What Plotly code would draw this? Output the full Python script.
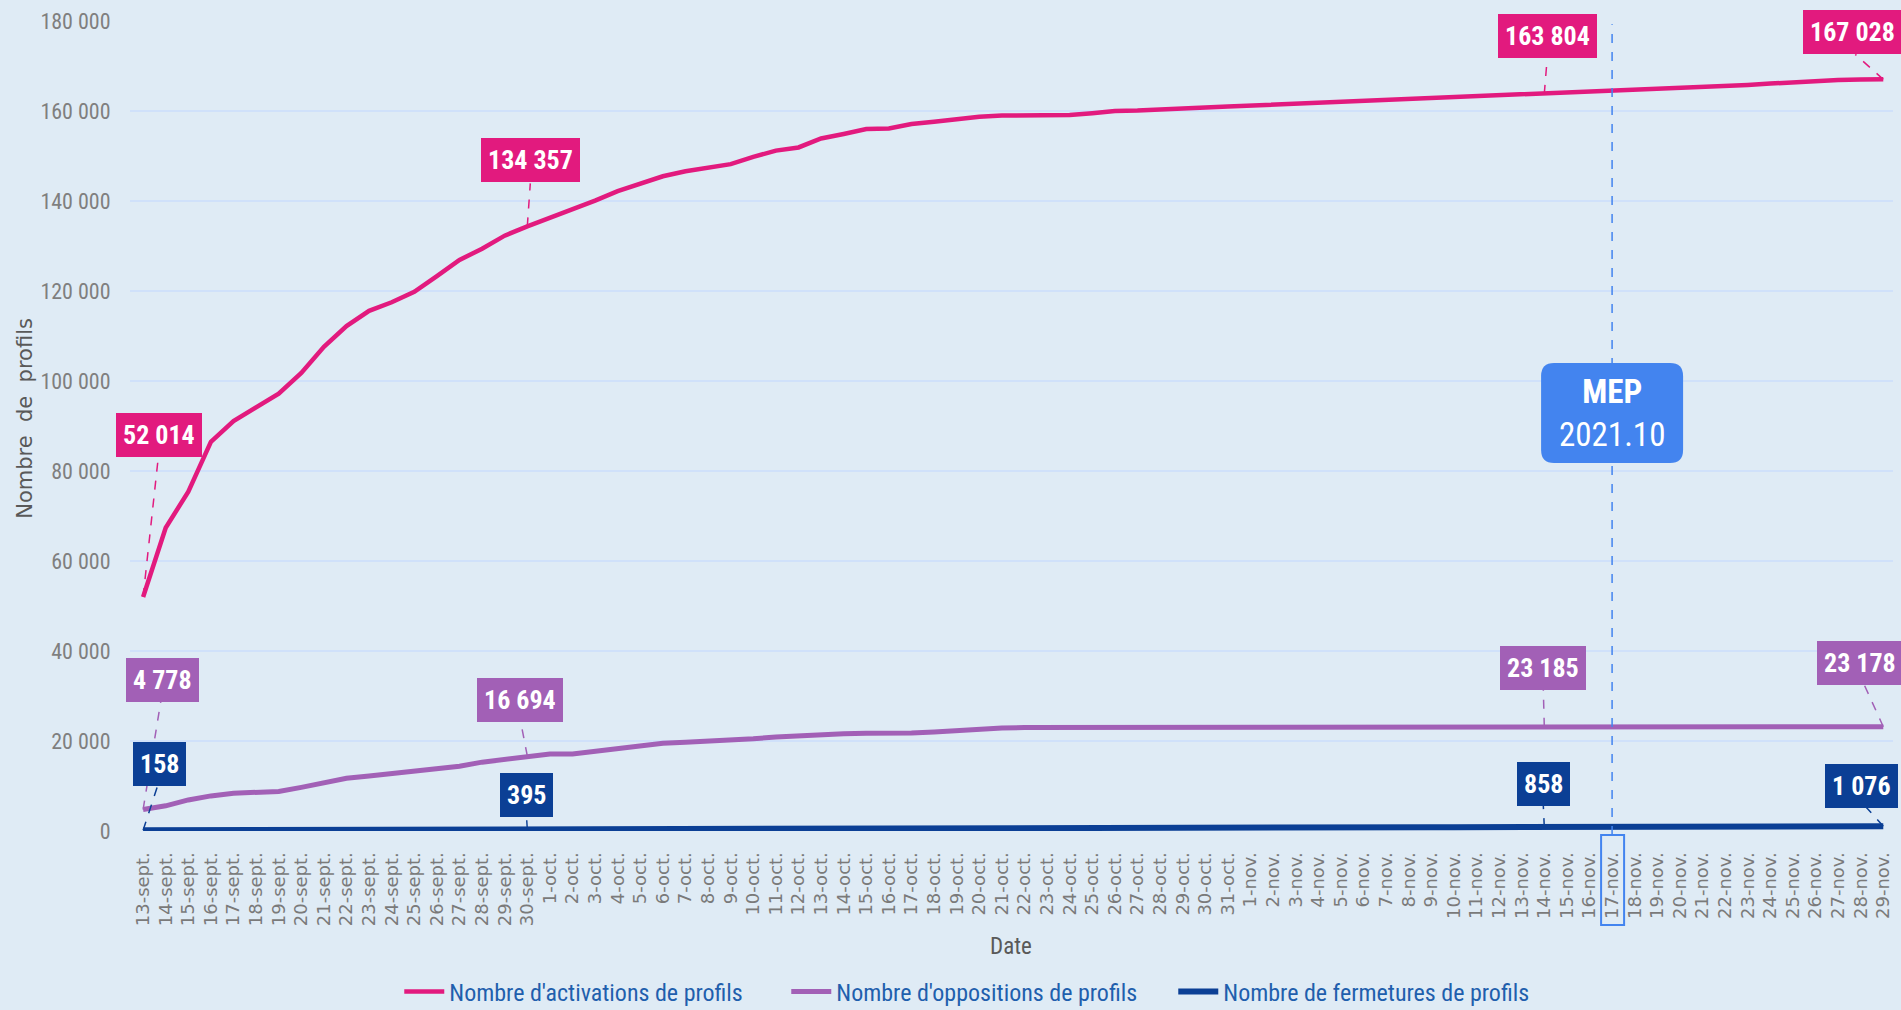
import plotly.graph_objects as go

# ---------------- data ----------------
sept_days = list(range(13, 31))
oct_days = list(range(1, 32))
nov_days = list(range(1, 30))
dates = ([f"{d}-sept." for d in sept_days] + [f"{d}-oct." for d in oct_days]
         + [f"{d}-nov." for d in nov_days])

activations = [
    52014, 67400, 75400, 86500, 91100, 94200, 97200, 101800, 107600, 112200,
    115600, 117500, 119800, 123300, 126900, 129400, 132300, 134357, 136300, 138000,
    140100, 142200, 143900, 145500, 146600, 147400, 148200, 149800, 151200, 151900,
    153900, 154900, 156000, 156100, 157100, 157600, 158200, 158700, 159000, 159100,
    159100, 159100, 159500, 160000, 160100, 160400, 160600, 160800, 161000, 161200,
    161500, 161800, 162000, 162200, 162400, 162600, 162800, 163000, 163200, 163400,
    163500, 163650, 163804, 164000, 164200, 164400, 164600, 164800, 165000, 165200,
    165500, 165800, 166100, 166400, 166700, 166900, 167000, 167028]

oppositions = [
    4778, 5600, 6900, 7800, 8400, 8600, 8800, 9700, 10600, 11700,
    12200, 12700, 13300, 13700, 14400, 15300, 15900, 16694, 17100, 17100,
    17700, 18400, 18900, 19500, 19700, 19900, 20100, 20500, 20900, 21200,
    21400, 21600, 21700, 21700, 21800, 22000, 22300, 22700, 22900, 23000,
    23000, 23000, 23000, 23000, 23000, 23020, 23030, 23050, 23060, 23080,
    23090, 23100, 23110, 23120, 23130, 23140, 23150, 23160, 23170, 23175,
    23180, 23183, 23185, 23183, 23182, 23180, 23180, 23179, 23179, 23178,
    23178, 23177, 23177, 23176, 23176, 23177, 23178, 23178]

fermetures = [
    158, 175, 190, 205, 220, 232, 240, 252, 268, 285,
    300, 315, 330, 343, 355, 368, 382, 395, 410, 425,
    440, 455, 468, 480, 490, 502, 515, 528, 540, 552,
    565, 578, 590, 600, 612, 625, 638, 650, 660, 670,
    680, 690, 700, 712, 722, 732, 742, 752, 762, 772,
    782, 792, 802, 812, 822, 832, 842, 850, 852, 854,
    856, 857, 858, 870, 885, 898, 912, 925, 940, 955,
    968, 982, 996, 1010, 1025, 1040, 1058, 1076]

series_names = ["Nombre d'activations de profils",
                "Nombre d'oppositions de profils",
                "Nombre de fermetures de profils"]
labelled_idx = [0, 17, 62, 77]
mep_date = "17-nov."
mep_text = ["MEP", "2021.10"]
y_ticks = [0, 20000, 40000, 60000, 80000, 100000, 120000, 140000, 160000, 180000]

# ---------------- style ----------------
PINK, PURPLE, BLUE, MEPBLUE = "#E21A7E", "#A260B6", "#0B3F95", "#4384EF"
BG, GRID = "#DFEBF5", "#D0E1FA"
NARROW = "Liberation Sans Narrow, Arial Narrow, Roboto Condensed, sans-serif"

colors = [PINK, PURPLE, BLUE]
widths = [4.5, 5, 6]
all_series = [activations, oppositions, fermetures]

# pixel offsets: (box dx, box dy, connector end dx, connector end dy)
offsets = [
    [(16, 162, 15, 138), (3, 66, 3, 43), (3, 58, 3, 37), (-31, 47, -28, 25)],
    [(19, 130, 18, 110), (-7, 56, -7, 36), (-1, 59, -1, 38), (-23, 64, -20, 44)],
    [(16, 66, 15, 46), (-1, 34, -1, 16), (-1, 43, -1, 22), (-22, 40, -18, 20)],
]

fig = go.Figure()
for name, vals, c, w in zip(series_names, all_series, colors, widths):
    fig.add_trace(go.Scatter(x=dates, y=vals, mode="lines", name=name,
                             line=dict(color=c, width=w), hoverinfo="x+y"))

mep_i = dates.index(mep_date)

# vertical MEP line (from the tick-label box up to the top)
fig.add_shape(type="line", xref="x", yref="paper", x0=mep_i, x1=mep_i, y0=-0.005, y1=0.996,
              line=dict(color=MEPBLUE, width=1.5, dash="dash"), layer="above")

# labels
for s, (vals, c) in enumerate(zip(all_series, colors)):
    for k, i in enumerate(labelled_idx):
        bdx, bdy, cdx, cdy = offsets[s][k]
        fig.add_shape(type="line", xref="x", yref="y", xsizemode="pixel", ysizemode="pixel",
                      xanchor=i, yanchor=vals[i], x0=0, y0=0, x1=cdx, y1=cdy,
                      line=dict(color=c, width=1.5, dash="dash"), layer="above")
        txt = f"{vals[i]:,}".replace(",", " ")
        fig.add_annotation(x=i, y=vals[i], xref="x", yref="y", text=f"<b>{txt}</b>",
                           showarrow=False, xshift=bdx, yshift=bdy,
                           bgcolor=c, borderpad=7, borderwidth=0,
                           font=dict(family=NARROW, size=26, color="white"))

# MEP box (rounded)
mep_y = 92900
hw, hh, r = 71, 50, 13
path = (f"M {-hw + r},{hh} L {hw - r},{hh} Q {hw},{hh} {hw},{hh - r} "
        f"L {hw},{-hh + r} Q {hw},{-hh} {hw - r},{-hh} L {-hw + r},{-hh} "
        f"Q {-hw},{-hh} {-hw},{-hh + r} L {-hw},{hh - r} Q {-hw},{hh} {-hw + r},{hh} Z")
fig.add_shape(type="path", xref="x", yref="y", xsizemode="pixel", ysizemode="pixel",
              xanchor=mep_i, yanchor=mep_y, path=path, fillcolor=MEPBLUE,
              line=dict(width=0), layer="above")
fig.add_annotation(x=mep_i, y=mep_y, xref="x", yref="y",
                   text=f"<b>{mep_text[0]}</b><br>{mep_text[1]}", showarrow=False,
                   font=dict(family=NARROW, size=33, color="white"))

# highlight box around MEP tick label
fig.add_shape(type="rect", xref="x", yref="paper", xsizemode="pixel",
              xanchor=mep_i, x0=-11, x1=12, y0=-0.005, y1=-0.116,
              line=dict(color=MEPBLUE, width=2), fillcolor="rgba(0,0,0,0)")

# axis titles as annotations
fig.add_annotation(text="Date", xref="paper", yref="paper", x=0.4997, y=-0.142,
                   xanchor="center", yanchor="middle",
                   showarrow=False, font=dict(family=NARROW, size=23, color="#595959"))
fig.add_annotation(text="Nombre  de  profils", xref="paper", yref="paper",
                   x=-0.0596, y=0.51, xanchor="center", yanchor="middle",
                   textangle=-90, showarrow=False,
                   font=dict(family="DejaVu Sans, sans-serif", size=21, color="#595959"))

fig.update_layout(
    width=1901, height=1010,
    paper_bgcolor=BG, plot_bgcolor=BG,
    margin=dict(l=130, r=8, t=21, b=179, autoexpand=False),
    separators=", ",
    showlegend=True,
    legend=dict(orientation="h", x=0.482, xanchor="center",
                yref="container", y=0.018, yanchor="middle",
                font=dict(family=NARROW, size=24, color="#1F5FAD"),
                bgcolor="rgba(0,0,0,0)", entrywidth=332, itemwidth=40),
    xaxis=dict(type="category", range=[-0.58, 77.43], tickangle=-90,
               tickfont=dict(family="DejaVu Sans, sans-serif", size=18, color="#7A7A7A"),
               showgrid=False, zeroline=False, showline=False, automargin=False,
               ticks="outside", ticklen=13, tickcolor="rgba(0,0,0,0)"),
    yaxis=dict(range=[0, 180000], tickvals=y_ticks, tickformat=",d",
               tickfont=dict(family=NARROW, size=22, color="#7F7F7F"),
               showgrid=True, gridcolor=GRID, gridwidth=2, zeroline=False, showline=False,
               automargin=False,
               ticks="outside", ticklen=14, tickcolor="rgba(0,0,0,0)"),
)

fig.write_html("out.html", config={"displayModeBar": False},
               post_script="document.body.style.margin='0';document.body.style.overflow='hidden';")
